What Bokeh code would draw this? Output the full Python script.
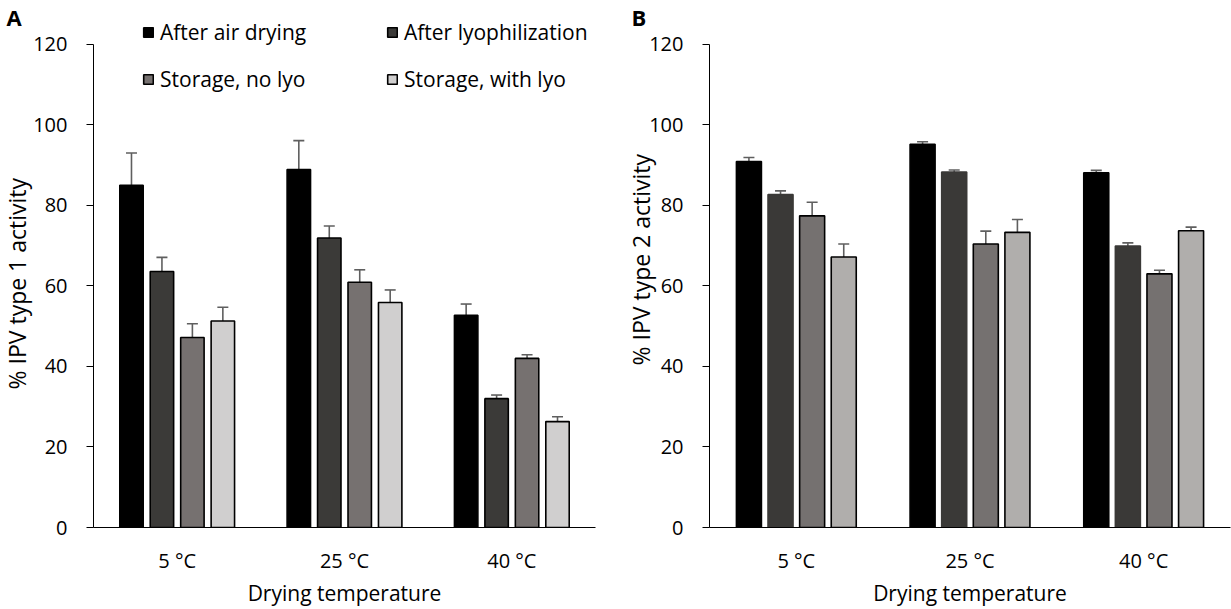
from bokeh.plotting import figure
from bokeh.models import (ColumnDataSource, Range1d, FactorRange, Whisker, TeeHead,
                          Legend, LegendItem, Title)
from bokeh.transform import dodge
from bokeh.layouts import row
from bokeh.embed import file_html
from bokeh.resources import INLINE

# ---------------- data ----------------
categories = ["5 °C", "25 °C", "40 °C"]
series = ["After air drying", "After lyophilization", "Storage, no lyo", "Storage, with lyo"]

# Panel A: % IPV type 1 activity
a_air = [85.0, 88.9, 52.7]
a_air_err = [8.0, 7.2, 2.8]
a_lyo = [63.6, 71.9, 32.0]
a_lyo_err = [3.5, 3.0, 0.9]
a_stor_no = [47.2, 60.9, 42.0]
a_stor_no_err = [3.4, 3.1, 0.9]
a_stor_with = [51.3, 55.9, 26.3]
a_stor_with_err = [3.4, 3.1, 1.2]

# Panel B: % IPV type 2 activity
b_air = [90.9, 95.2, 88.1]
b_air_err = [1.0, 0.6, 0.6]
b_lyo = [82.7, 88.3, 69.9]
b_lyo_err = [0.9, 0.5, 0.8]
b_stor_no = [77.4, 70.4, 63.0]
b_stor_no_err = [3.4, 3.2, 0.9]
b_stor_with = [67.2, 73.3, 73.7]
b_stor_with_err = [3.2, 3.2, 0.9]

y_ticks = [0, 20, 40, 60, 80, 100, 120]

FONT = "Open Sans"
offsets = [-0.273, -0.091, 0.091, 0.273]
ERR_COLOR = "#5f5f5f"

FRAME_TOP = 18      # px from top of figure
FRAME_BOTTOM = 530  # px from top of figure
PX_PER_UNIT = (530 - 44) / 120.0


def make_panel(letter, ylabel, vals, errs, colors, outlines, width, border_left,
               border_right, bar_w, letter_offset, ylab_offset, ylab_standoff,
               legend_pos=None):
    ymax = (FRAME_BOTTOM - FRAME_TOP) / PX_PER_UNIT
    p = figure(x_range=FactorRange(*categories, range_padding=0),
               y_range=Range1d(0, ymax),
               width=width, height=609, output_backend="svg", toolbar_location=None,
               min_border_left=border_left, min_border_right=border_right,
               min_border_top=FRAME_TOP, min_border_bottom=609 - FRAME_BOTTOM)
    p.outline_line_color = None
    p.xgrid.grid_line_color = None
    p.ygrid.grid_line_color = None
    p.background_fill_color = "white"
    p.border_fill_color = "white"

    renderers = []
    for i in range(4):
        src = ColumnDataSource(dict(cat=categories, val=vals[i],
                                    up=[v + e for v, e in zip(vals[i], errs[i])],
                                    lo=[v - e for v, e in zip(vals[i], errs[i])]))
        r = p.vbar(x=dodge("cat", offsets[i], range=p.x_range), top="val", width=bar_w,
                   source=src, fill_color=colors[i],
                   line_color=outlines[i], line_width=1.6)
        renderers.append(r)
        w = Whisker(base=dodge("cat", offsets[i], range=p.x_range), upper="up", lower="lo",
                    source=src, line_color=ERR_COLOR, line_width=1.6,
                    upper_head=TeeHead(size=11, line_color=ERR_COLOR, line_width=1.6),
                    lower_head=TeeHead(size=11, line_color=ERR_COLOR, line_width=1.6))
        p.add_layout(w)

    # y axis
    ya = p.yaxis[0]
    ya.bounds = (0, 120)
    ya.ticker = y_ticks
    ya.minor_tick_line_color = None
    ya.major_tick_out = 7
    ya.major_tick_in = 0
    ya.axis_line_color = "black"
    ya.major_tick_line_color = "black"
    ya.major_label_standoff = 19
    ya.major_label_text_font = FONT
    ya.major_label_text_font_size = "20px"
    ya.major_label_text_color = "black"

    # y axis title as a side-panel title so it can sit over the 0..120 span
    p.add_layout(Title(text=ylabel, align="left", offset=ylab_offset, standoff=ylab_standoff,
                       text_font=FONT, text_font_size="23px", text_font_style="normal",
                       text_color="black"), "left")

    # x axis
    xa = p.xaxis[0]
    xa.major_tick_line_color = None
    xa.minor_tick_line_color = None
    xa.major_tick_out = 0
    xa.axis_line_color = "black"
    xa.major_label_standoff = 19
    xa.major_label_text_font = FONT
    xa.major_label_text_font_size = "20px"
    xa.major_label_text_color = "black"
    xa.axis_label = "Drying temperature"
    xa.axis_label_text_font = FONT
    xa.axis_label_text_font_size = "21px"
    xa.axis_label_text_font_style = "normal"
    xa.axis_label_text_color = "black"
    xa.axis_label_standoff = 2

    if legend_pos is not None:
        for i, (lx, ly) in enumerate(legend_pos):
            leg = Legend(items=[LegendItem(label=series[i], renderers=[renderers[i]])],
                         location=(lx, ly), margin=0, padding=0,
                         border_line_color=None, background_fill_alpha=0,
                         glyph_width=12, glyph_height=12, label_standoff=6,
                         label_text_font=FONT, label_text_font_size="21px",
                         label_text_color="black", spacing=0)
            p.add_layout(leg)

    p.add_layout(Title(text=letter, align="left", vertical_align="top", offset=letter_offset,
                       standoff=-30, text_font="Open Sans", text_font_size="22px",
                       text_font_style="bold", text_color="black"), "above")
    return p


pA = make_panel("A", "% IPV type 1 activity",
                [a_air, a_lyo, a_stor_no, a_stor_with],
                [a_air_err, a_lyo_err, a_stor_no_err, a_stor_with_err],
                ["#000000", "#3b3a38", "#767170", "#d0cfcf"],
                ["black", "black", "black", "black"],
                width=610, border_left=93, border_right=15, bar_w=0.14,
                letter_offset=-87, ylab_offset=138, ylab_standoff=-4,
                legend_pos=[(49, 481), (293, 481), (49, 434), (293, 434)])

pB = make_panel("B", "% IPV type 2 activity",
                [b_air, b_lyo, b_stor_no, b_stor_with],
                [b_air_err, b_lyo_err, b_stor_no_err, b_stor_with_err],
                ["#000000", "#3a3937", "#757170", "#b0aeac"],
                ["#000000", "#3a3937", "black", "black"],
                width=621, border_left=99, border_right=1, bar_w=0.144,
                letter_offset=-78, ylab_offset=162, ylab_standoff=-20)

layout = row(pA, pB)
open("out.html", "w").write(file_html(layout, INLINE))
